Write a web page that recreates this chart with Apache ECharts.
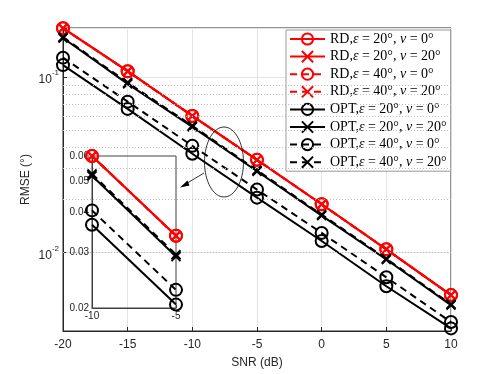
<!DOCTYPE html>
<html>
<head>
<meta charset="utf-8">
<script src="https://cdn.jsdelivr.net/npm/echarts@6/dist/echarts.min.js"></script>
<style>
html, body { margin: 0; padding: 0; background: #fff; }
#chart { width: 498px; height: 374px; }
</style>
</head>
<body>
<div id="chart"></div>
<script>
// SNR (dB) points
var snr = [-20, -15, -10, -5, 0, 5, 10];

// RMSE values
var rd20_0   = [0.190, 0.108, 0.0600, 0.0337, 0.0188, 0.0104, 0.0057];
var rd20_20  = [0.190, 0.108, 0.0600, 0.0337, 0.0188, 0.0104, 0.0057];
var rd40_0   = [0.190, 0.108, 0.0600, 0.0337, 0.0188, 0.0104, 0.0057];
var rd40_20  = [0.190, 0.108, 0.0600, 0.0337, 0.0188, 0.0104, 0.0057];
var opt20_0  = [0.117, 0.0658, 0.0365, 0.0205, 0.0116, 0.0064, 0.00368];
var opt20_20 = [0.167, 0.0915, 0.0520, 0.0290, 0.0162, 0.0091, 0.0050];
var opt40_0  = [0.129, 0.0724, 0.0405, 0.0228, 0.0129, 0.0072, 0.0040];
var opt40_20 = [0.169, 0.0930, 0.0527, 0.0294, 0.0164, 0.0092, 0.00505];

var names = [
  'RD,ε = 20°, ν = 0°', 'RD,ε = 20°, ν = 20°', 'RD,ε = 40°, ν = 0°', 'RD,ε = 40°, ν = 20°',
  'OPT,ε = 20°, ν = 0°', 'OPT,ε = 20°, ν = 20°', 'OPT,ε = 40°, ν = 0°', 'OPT,ε = 40°, ν = 20°'
];

// tick / grid values
var minorGrid = [0.004, 0.005, 0.006, 0.007, 0.008, 0.009, 0.02, 0.03, 0.04, 0.05, 0.06, 0.07, 0.08, 0.09];
var insetYTicks = [0.02, 0.03, 0.04, 0.05, 0.06];
var insetX = [-10, -5];

var RED = '#ff0000', BLK = '#000000', TXT = '#262626';
var CROSS = 'path://M0,0L10,10M10,0L0,10';

var defs = [
  { d: rd20_0,   c: RED, dash: false, m: 'circle' },
  { d: rd20_20,  c: RED, dash: false, m: 'cross' },
  { d: rd40_0,   c: RED, dash: true,  m: 'circle' },
  { d: rd40_20,  c: RED, dash: true,  m: 'cross' },
  { d: opt20_0,  c: BLK, dash: false, m: 'circle' },
  { d: opt20_20, c: BLK, dash: false, m: 'cross' },
  { d: opt40_0,  c: BLK, dash: true,  m: 'circle' },
  { d: opt40_20, c: BLK, dash: true,  m: 'cross' }
];

function pairs(vals, keep) {
  var out = [];
  for (var i = 0; i < snr.length; i++) {
    if (!keep || keep.indexOf(snr[i]) >= 0) out.push([snr[i], vals[i]]);
  }
  return out;
}

function makeSeries(def, i, inset) {
  var circ = def.m === 'circle';
  return {
    name: names[i],
    type: 'line',
    xAxisIndex: inset ? 1 : 0,
    yAxisIndex: inset ? 1 : 0,
    data: pairs(def.d, inset ? insetX : null),
    symbol: circ ? 'circle' : CROSS,
    symbolSize: circ ? 12 : 9,
    symbolKeepAspect: true,
    showAllSymbol: true,
    z: inset ? 12 : 3,
    lineStyle: { color: def.c, width: 2, type: def.dash ? [7, 5] : 'solid' },
    itemStyle: { color: 'transparent', borderColor: def.c, borderWidth: 2 },
    emphasis: { disabled: true },
    animation: false
  };
}

// invisible carrier series for grid lines / inset tick labels
function carrier(inset, markLine) {
  return {
    type: 'line',
    xAxisIndex: inset ? 1 : 0,
    yAxisIndex: inset ? 1 : 0,
    data: pairs(rd20_0, inset ? insetX : null),
    symbol: 'none',
    lineStyle: { opacity: 0 },
    silent: true,
    z: inset ? 11 : 1,
    markLine: markLine,
    animation: false
  };
}

var series = [];
series.push(carrier(false, {
  silent: true, symbol: 'none', animation: false,
  label: { show: false },
  lineStyle: { color: '#bdbdbd', type: [1, 2], width: 1 },
  data: minorGrid.map(function (v) { return { yAxis: v }; })
}));
defs.forEach(function (d, i) { series.push(makeSeries(d, i, false)); });
series.push(carrier(true, {
  silent: true, symbol: 'none', animation: false,
  lineStyle: { color: 'rgba(0,0,0,0)', width: 0 },
  label: {
    show: true, position: 'start', distance: 3,
    color: TXT, fontSize: 10, fontFamily: 'Liberation Sans',
    formatter: function (p) { return Number(p.value).toFixed(2); }
  },
  data: insetYTicks.map(function (v) { return { yAxis: v }; })
}));
defs.forEach(function (d, i) { series.push(makeSeries(d, i, true)); });

var chart = echarts.init(document.getElementById('chart'));
chart.setOption({
  animation: false,
  backgroundColor: '#fff',
  textStyle: { fontFamily: 'Liberation Sans' },
  grid: [
    { left: 63, right: 47, top: 28, bottom: 42, show: true, borderColor: TXT, borderWidth: 1, backgroundColor: 'transparent' },
    { left: 92, top: 156, width: 84, height: 152, show: true, borderColor: '#404040', borderWidth: 1, backgroundColor: 'transparent', z: 10 }
  ],
  xAxis: [
    {
      type: 'value', gridIndex: 0, min: -20, max: 10, interval: 5,
      name: 'SNR (dB)', nameLocation: 'middle', nameGap: 26,
      nameTextStyle: { color: TXT, fontSize: 12 },
      axisLine: { onZero: false, lineStyle: { color: TXT } },
      axisTick: { inside: true, length: 4, lineStyle: { color: TXT } },
      axisLabel: { color: TXT, fontSize: 12, margin: 8 },
      splitLine: { show: true, lineStyle: { color: '#e4e4e4' } }
    },
    {
      type: 'value', gridIndex: 1, min: -10, max: -5, interval: 5, z: 11,
      axisLine: { onZero: false, lineStyle: { color: '#404040' } },
      axisTick: { inside: true, length: 3, lineStyle: { color: '#404040' } },
      axisLabel: { color: TXT, fontSize: 10, margin: 3 },
      splitLine: { show: false }
    }
  ],
  yAxis: [
    {
      type: 'log', gridIndex: 0, min: 0.003556, max: 0.1905, logBase: 10,
      name: 'RMSE (°)', nameLocation: 'middle', nameGap: 31, nameRotate: 90,
      nameMoveOverlap: false,
      nameTextStyle: { color: TXT, fontSize: 12 },
      axisLine: { onZero: false, lineStyle: { color: TXT } },
      axisTick: { inside: true, length: 4, lineStyle: { color: TXT } },
      axisLabel: {
        color: TXT, margin: 4,
        formatter: function (v) {
          var e = Math.log10(v), r = Math.round(e);
          return Math.abs(e - r) < 1e-6 ? '{b|10}{s|' + r + '}' : '';
        },
        rich: {
          b: { fontSize: 12, color: TXT, lineHeight: 16, fontFamily: 'Liberation Sans', padding: [6, 0, 0, 0] },
          s: { fontSize: 8, color: TXT, lineHeight: 16, verticalAlign: 'top', fontFamily: 'Liberation Sans' }
        }
      },
      splitLine: { show: true, lineStyle: { color: '#e4e4e4' } }
    },
    {
      type: 'log', gridIndex: 1, min: 0.02, max: 0.06, z: 11,
      axisLine: { onZero: false, lineStyle: { color: '#404040' } },
      axisTick: { show: false },
      axisLabel: { show: false },
      splitLine: { show: false }
    }
  ],
  legend: {
    data: names,
    orient: 'vertical',
    left: 286, top: 30,
    itemWidth: 35, itemHeight: 14, itemGap: 3.6,
    padding: [2, 4, 2, 3],
    backgroundColor: '#fff',
    borderColor: '#999', borderWidth: 1,
    selectedMode: false,
    formatter: function (n) { return n.replace(/([εν])/g, '{i|$1}'); },
    textStyle: {
      fontFamily: 'Liberation Serif', fontSize: 14, color: '#000',
      rich: { i: { fontFamily: 'Liberation Serif', fontStyle: 'italic', fontSize: 14, color: '#000' } }
    }
  },
  graphic: [
    { type: 'ellipse', shape: { cx: 224, cy: 162, rx: 19.5, ry: 35 }, style: { fill: 'none', stroke: '#000', lineWidth: 0.8 }, z: 20 },
    { type: 'line', shape: { x1: 204, y1: 173, x2: 184, y2: 185 }, style: { stroke: '#000', lineWidth: 0.8 }, z: 20 },
    { type: 'polygon', shape: { points: [[180, 187.5], [187.5, 180.5], [189.5, 185.5]] }, style: { fill: '#000' }, z: 20 }
  ],
  series: series
});
</script>
</body>
</html>
